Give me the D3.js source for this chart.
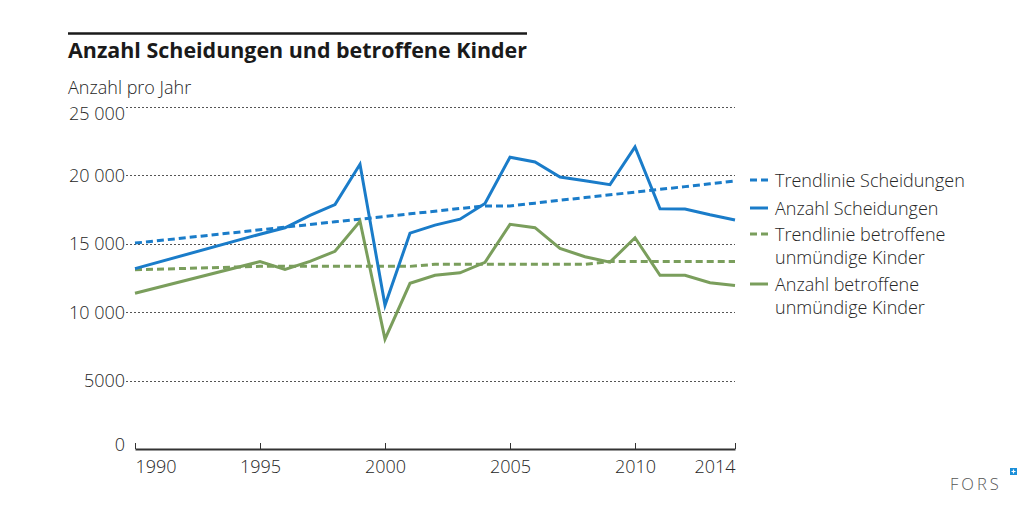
<!DOCTYPE html>
<html><head><meta charset="utf-8">
<script src="https://cdn.jsdelivr.net/npm/d3@7/dist/d3.min.js"></script>
<style>
html,body{margin:0;padding:0;background:#fff;}
svg{display:block;font-family:"Open Sans","Noto Sans",sans-serif;}
</style></head>
<body>
<script>
const years = [1990,1995,1996,1997,1998,1999,2000,2001,2002,2003,2004,2005,2006,2007,2008,2009,2010,2011,2012,2013,2014];
const scheidungen = [13184,15703,16172,17073,17868,20809,10511,15778,16363,16799,17949,21332,20981,19882,19613,19321,22081,17566,17550,17119,16737];
const trendScheidungen = [15050,16020,16220,16410,16610,16800,17000,17190,17380,17580,17770,17770,17970,18180,18380,18580,18780,18980,19180,19390,19590];
const kinder = [11380,13700,13120,13720,14450,16650,8030,12110,12700,12880,13650,16420,16180,14660,14050,13660,15440,12700,12700,12150,11950];
const trendKinder = [13100,13350,13350,13350,13350,13350,13350,13350,13500,13500,13500,13500,13500,13500,13500,13700,13700,13700,13700,13700,13700];
const yTicks = [0,5000,10000,15000,20000,25000];
const yTickLabels = ["0","5000","10 000","15 000","20 000","25 000"];
const xTicks = [1990,1995,2000,2005,2010,2014];
const legendItems = [
  {lines:["Trendlinie Scheidungen"], color:"#1a7cc9", dashed:true},
  {lines:["Anzahl Scheidungen"], color:"#1a7cc9", dashed:false},
  {lines:["Trendlinie betroffene","unmündige Kinder"], color:"#7a9e5c", dashed:true},
  {lines:["Anzahl betroffene","unmündige Kinder"], color:"#7a9e5c", dashed:false}
];
const title = "Anzahl Scheidungen und betroffene Kinder";
const yTitle = "Anzahl pro Jahr";

const W=1035,H=508;
const svg=d3.select("body").append("svg").attr("width",W).attr("height",H);
const x=d3.scaleLinear().domain([1990,2014]).range([135,735]);
const y=d3.scaleLinear().domain([0,25000]).range([449,107]);
const textCol="#262626";
const fs=18;

// title rule and title
svg.append("line").attr("x1",68).attr("x2",527).attr("y1",33.5).attr("y2",33.5).attr("stroke","#1a1a1a").attr("stroke-width",2.5);
svg.append("text").attr("x",68).attr("y",58).attr("font-size",20.5).attr("font-weight",700).attr("fill","#1a1a1a")
  .attr("textLength",459).attr("lengthAdjust","spacingAndGlyphs").text(title);
svg.append("text").attr("x",68).attr("y",94).attr("font-size",fs).attr("font-weight",300).attr("fill",textCol).text(yTitle);

// gridlines
const gridTicks=yTicks.filter(d=>d>0);
svg.append("g").selectAll("line").data(gridTicks).join("line")
  .attr("x1",126).attr("x2",735).attr("y1",d=>Math.round(y(d))+0.5).attr("y2",d=>Math.round(y(d))+0.5)
  .attr("stroke","#555").attr("stroke-width",1).attr("stroke-dasharray","2,2");

// y labels
svg.append("g").selectAll("text").data(yTicks).join("text")
  .attr("x",125).attr("text-anchor","end").attr("font-size",fs).attr("font-weight",300).attr("fill",textCol)
  .attr("y",(d)=>y(d)+6.5 + (d===25000?6:0) + (d===0?-5:0))
  .text((d,i)=>yTickLabels[i]);

// x axis
const xAxis=d3.axisBottom(x).tickValues(xTicks).tickSize(0).tickFormat(d3.format("d"));
const gx=svg.append("g").attr("transform","translate(0,449)").call(xAxis);
gx.select(".domain").attr("stroke","#333").attr("stroke-width",1.8);
gx.selectAll(".tick text").attr("font-size",fs).attr("font-weight",300).attr("fill",textCol)
  .attr("font-family","'Open Sans','Noto Sans',sans-serif").attr("dy",0).attr("y",24)
  .attr("text-anchor",(d)=>d===1990?"start":(d===2014?"end":"middle"));
gx.selectAll(".tick").append("line").attr("y1",0).attr("y2",-6).attr("stroke","#333").attr("stroke-width",1);

// lines
const line=d3.line().x((d,i)=>x(years[i])).y(d=>y(d));
const series=[
  {data:trendScheidungen,color:"#1a7cc9",dashed:true},
  {data:trendKinder,color:"#7a9e5c",dashed:true},
  {data:kinder,color:"#7a9e5c",dashed:false},
  {data:scheidungen,color:"#1a7cc9",dashed:false}
];
svg.append("g").selectAll("path").data(series).join("path")
  .attr("d",d=>line(d.data)).attr("fill","none").attr("stroke",d=>d.color)
  .attr("stroke-width",3).attr("stroke-linejoin","miter").attr("stroke-dasharray",d=>d.dashed?"7,4":null);

// legend
const rowY=[180,208,234,284];
const lg=svg.append("g");
legendItems.forEach((it,i)=>{
  lg.append("line").attr("x1",750).attr("x2",768).attr("y1",rowY[i]).attr("y2",rowY[i])
    .attr("stroke",it.color).attr("stroke-width",3).attr("stroke-dasharray",it.dashed?"7,4":null);
  it.lines.forEach((t,j)=>{
    lg.append("text").attr("x",775).attr("y",rowY[i]+6.5+j*23).attr("font-size",fs).attr("font-weight",300).attr("fill",textCol).text(t);
  });
});

// FORS logo
svg.append("text").attr("x",950).attr("y",490).attr("font-size",16.5).attr("font-weight",300).attr("letter-spacing",3).attr("fill","#555").text("FORS");
svg.append("rect").attr("x",1010).attr("y",468).attr("width",7).attr("height",7).attr("fill","#1a8ed8");
svg.append("path").attr("d","M1011.5,471.5H1015.5M1013.5,469.5V473.5").attr("stroke","#fff").attr("stroke-width",1.2);
</script>
</body></html>
